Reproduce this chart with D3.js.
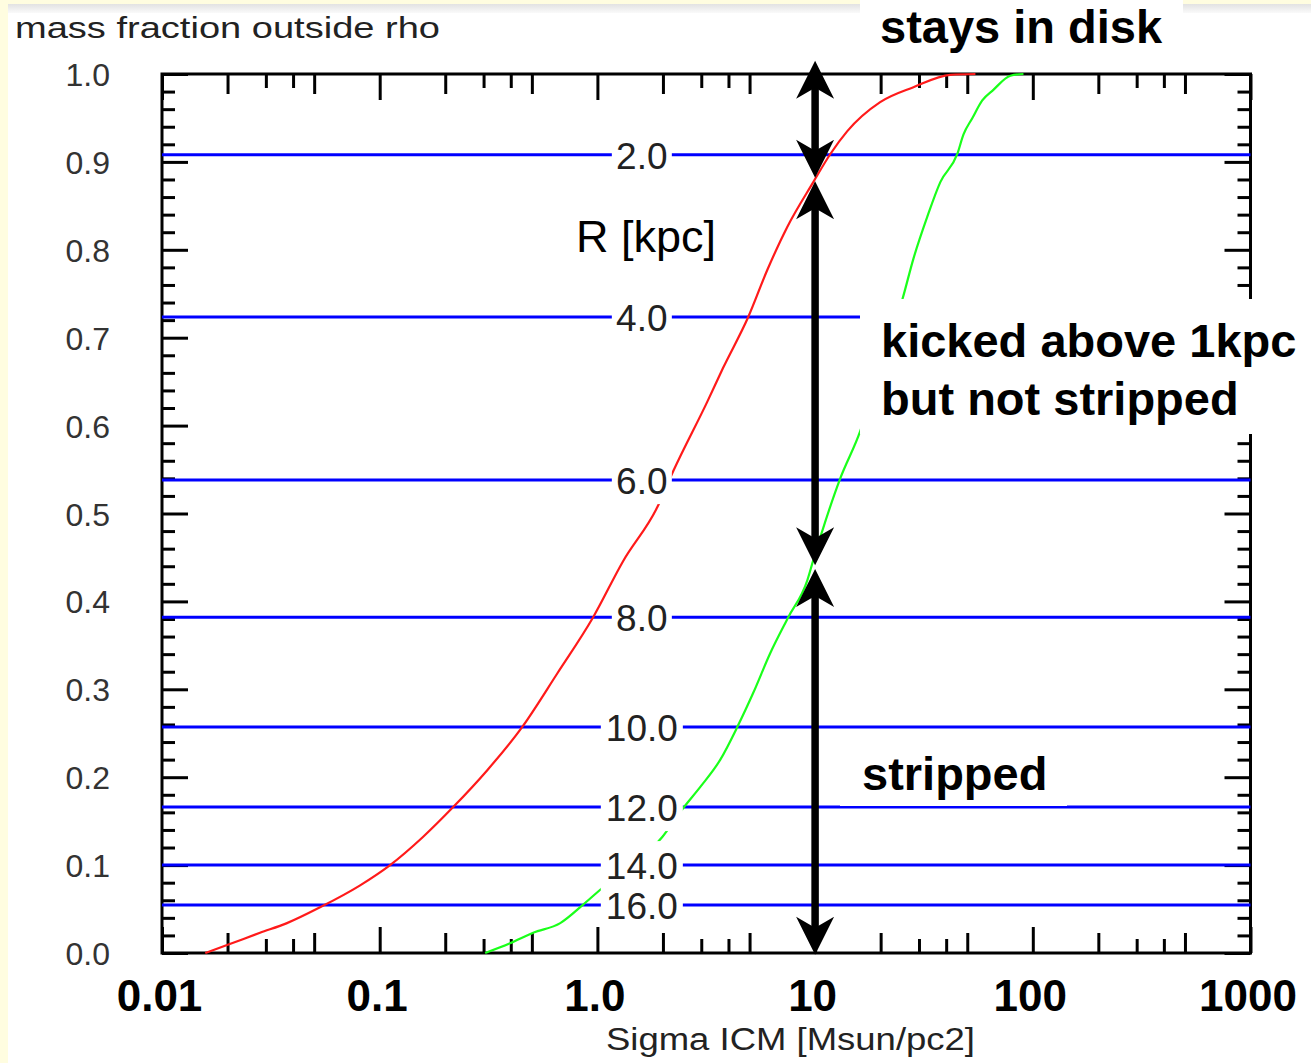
<!DOCTYPE html>
<html>
<head>
<meta charset="utf-8">
<script src="https://cdn.jsdelivr.net/npm/d3@7"></script>
<style>
  body { margin: 0; background: #fff; }
  svg { display: block; }
  text { font-family: "Liberation Sans", Arial, sans-serif; }
</style>
</head>
<body>
<div id="chart"></div>
<script>
// data
var redSigma = [0.0158, 0.0199, 0.0282, 0.0375, 0.0532, 0.0813, 0.1116, 0.158, 0.2175, 0.312, 0.451, 0.654, 0.956, 1.314, 1.883, 2.229, 3.195, 3.785, 4.93, 6.03, 7.45, 9.81, 11.75, 14.06, 19.9, 28.3, 41.8, 54.5];
var redFrac  = [0.0, 0.009, 0.023, 0.034, 0.052, 0.077, 0.100, 0.132, 0.166, 0.208, 0.257, 0.318, 0.382, 0.446, 0.507, 0.548, 0.627, 0.666, 0.7235, 0.777, 0.826, 0.877, 0.909, 0.935, 0.968, 0.985, 0.999, 1.0];

var greenSigma = [0.305, 0.397, 0.507, 0.675, 0.86, 1.03, 1.986, 2.48, 2.97, 3.67, 4.39, 5.2, 6.22, 7.53, 9.21, 9.81, 13.05, 16.13, 19.9, 25.2, 28.3, 32.8, 37.6, 45.0, 48.0, 52.8, 58.6, 65.9, 78.9, 90.6];
var greenFrac  = [0.0, 0.011, 0.023, 0.034, 0.055, 0.072, 0.132, 0.165, 0.189, 0.220, 0.257, 0.296, 0.341, 0.382, 0.424, 0.447, 0.540, 0.594, 0.669, 0.744, 0.790, 0.838, 0.877, 0.909, 0.931, 0.950, 0.970, 0.982, 0.998, 1.0];

// radius contours (R [kpc]) and the mass fraction where each sits
var radiusLabels = ["2.0", "4.0", "6.0", "8.0", "10.0", "12.0", "14.0", "16.0"];
var radiusFrac   = [0.908, 0.7235, 0.538, 0.382, 0.257, 0.166, 0.100, 0.0546];
var radiusLabelSigma = 1.6;

var xTickLabels = ["0.01", "0.1", "1.0", "10", "100", "1000"];

// the double arrows at Sigma = 10
var arrowSigma = 10;
var arrowSpans = [[1.015, 0.882], [0.878, 0.441], [0.437, -0.002]];

var svgWidth = 1311;
var svgHeight = 1063;

var svg = d3.select("#chart").append("svg")
    .attr("width", svgWidth)
    .attr("height", svgHeight);

// page background: yellow edge strips and grey band
svg.append("rect").attr("x", 0).attr("y", 0).attr("width", svgWidth).attr("height", 4).attr("fill", "#fffde0");
var grad = svg.append("defs").append("linearGradient").attr("id", "band").attr("x1", 0).attr("y1", 0).attr("x2", 0).attr("y2", 1);
grad.append("stop").attr("offset", "0%").attr("stop-color", "#e2e2e2");
grad.append("stop").attr("offset", "100%").attr("stop-color", "#fafafa");
svg.append("rect").attr("x", 0).attr("y", 4).attr("width", svgWidth).attr("height", 9).attr("fill", "url(#band)");
svg.append("rect").attr("x", 0).attr("y", 0).attr("width", 8).attr("height", svgHeight).attr("fill", "#fffde0");

var x = d3.scaleLog().domain([0.01, 1000]).range([162, 1250.5]);
var y = d3.scaleLinear().domain([0, 1]).range([953, 74]);

var decades = [0.01, 0.1, 1, 10, 100, 1000];
var mid25 = [], mid34 = [];
decades.slice(0, 5).forEach(function(d) {
    mid25.push(d * 2, d * 5);
    mid34.push(d * 3, d * 4);
});
var yMajor = d3.range(0, 11).map(function(i) { return i / 10; });
var yMinor = d3.range(0, 51).filter(function(i) { return i % 5 !== 0; }).map(function(i) { return i / 50; });

function tickAxis(axisFn, scale, values, size, transform) {
    var g = svg.append("g")
        .attr("transform", transform)
        .attr("color", "#000")
        .call(axisFn(scale).tickValues(values).tickSize(-size).tickFormat(""));
    g.select(".domain").remove();
    g.selectAll("line").attr("stroke-width", 3);
    return g;
}

// x ticks bottom and top
[[decades, 26], [mid25, 20], [mid34, 14]].forEach(function(t) {
    tickAxis(d3.axisBottom, x, t[0], t[1], "translate(0," + y(0) + ")");
    tickAxis(d3.axisTop, x, t[0], t[1], "translate(0," + y(1) + ")");
});
// y ticks left and right
[[yMajor, 26], [yMinor, 13]].forEach(function(t) {
    tickAxis(d3.axisLeft, y, t[0], t[1], "translate(" + x(0.01) + ",0)");
    tickAxis(d3.axisRight, y, t[0], t[1], "translate(" + x(1000) + ",0)");
});

// tick labels
var xLab = svg.append("g")
    .attr("transform", "translate(0," + y(0) + ")")
    .call(d3.axisBottom(x).tickValues(decades).tickSize(0).tickPadding(27)
        .tickFormat(function(d, i) { return xTickLabels[i]; }));
xLab.select(".domain").remove();
xLab.selectAll("text")
    .attr("font-family", "'Liberation Sans', Arial, sans-serif")
    .attr("font-size", 44)
    .attr("font-weight", "bold")
    .attr("fill", "#000")
    .attr("dx", -3);

var yLab = svg.append("g")
    .attr("transform", "translate(" + x(0.01) + ",0)")
    .call(d3.axisLeft(y).tickValues(yMajor).tickSize(0).tickPadding(52).tickFormat(d3.format(".1f")));
yLab.select(".domain").remove();
yLab.selectAll("text")
    .attr("font-family", "'Liberation Sans', Arial, sans-serif")
    .attr("font-size", 32)
    .attr("fill", "#333")
    .attr("dy", "0.36em");

// frame
svg.append("rect")
    .attr("x", x(0.01)).attr("y", y(1))
    .attr("width", x(1000) - x(0.01)).attr("height", y(0) - y(1))
    .attr("fill", "none").attr("stroke", "#000").attr("stroke-width", 3);

// radius lines
svg.selectAll(".rline")
    .data(radiusFrac)
    .enter().append("line")
    .attr("class", "rline")
    .attr("x1", x(0.01)).attr("x2", x(1000))
    .attr("y1", function(d) { return y(d); })
    .attr("y2", function(d) { return y(d); })
    .attr("stroke", "#0000ff")
    .attr("stroke-width", 3);

// curves
var line = d3.line()
    .curve(d3.curveMonotoneX)
    .x(function(d) { return x(d[0]); })
    .y(function(d) { return y(d[1]); });

svg.append("path")
    .datum(d3.zip(redSigma, redFrac))
    .attr("d", line)
    .attr("fill", "none")
    .attr("stroke", "#ff1a1a")
    .attr("stroke-width", 2.2);

svg.append("path")
    .datum(d3.zip(greenSigma, greenFrac))
    .attr("d", line)
    .attr("fill", "none")
    .attr("stroke", "#1aff1a")
    .attr("stroke-width", 2.2);

// radius labels with white backing
var rl = svg.selectAll(".rlab")
    .data(d3.zip(radiusLabels, radiusFrac))
    .enter().append("g")
    .attr("class", "rlab")
    .attr("transform", function(d) { return "translate(" + x(radiusLabelSigma) + "," + y(d[1]) + ")"; });
rl.append("rect")
    .attr("x", function(d) { return d[0].length > 3 ? -41 : -30; })
    .attr("width", function(d) { return d[0].length > 3 ? 82 : 60; })
    .attr("y", -24).attr("height", 48)
    .attr("fill", "#fff");
rl.append("text")
    .attr("text-anchor", "middle")
    .attr("y", 14)
    .attr("font-size", 37)
    .attr("fill", "#222")
    .text(function(d) { return d[0]; });

svg.append("text")
    .attr("x", 576).attr("y", 252)
    .attr("font-size", 45)
    .attr("fill", "#000")
    .text("R [kpc]");

// axis titles
svg.append("text")
    .attr("x", 15).attr("y", 38)
    .attr("font-size", 29)
    .attr("fill", "#222")
    .attr("textLength", 425)
    .attr("lengthAdjust", "spacingAndGlyphs")
    .text("mass fraction outside rho");

svg.append("text")
    .attr("x", 606).attr("y", 1050)
    .attr("font-size", 31)
    .attr("fill", "#222")
    .attr("textLength", 369)
    .attr("lengthAdjust", "spacingAndGlyphs")
    .text("Sigma ICM [Msun/pc2]");

// annotation boxes
var notes = [
    {box: [860, 0, 323, 60], lines: ["stays in disk"], x: 880, y: 43},
    {box: [860, 299, 451, 135], lines: ["kicked above 1kpc", "but not stripped"], x: 881, y: 357},
    {box: [840, 745, 227, 61], lines: ["stripped"], x: 862, y: 790}
];
notes.forEach(function(n) {
    svg.append("rect")
        .attr("x", n.box[0]).attr("y", n.box[1])
        .attr("width", n.box[2]).attr("height", n.box[3])
        .attr("fill", "#fff");
    n.lines.forEach(function(t, i) {
        svg.append("text")
            .attr("x", n.x).attr("y", n.y + i * 58)
            .attr("font-size", 47)
            .attr("font-weight", "bold")
            .attr("fill", "#000")
            .text(t);
    });
});

// double arrows
var ax = x(arrowSigma);
function head(tipY, dir) {
    // dir = -1 points up, 1 points down
    var L = 38, W = 19, N = 27;
    return "M" + ax + "," + tipY +
        "L" + (ax + W) + "," + (tipY - dir * L) +
        "L" + ax + "," + (tipY - dir * N) +
        "L" + (ax - W) + "," + (tipY - dir * L) + "Z";
}
arrowSpans.forEach(function(s) {
    var top = y(s[0]), bot = y(s[1]);
    svg.append("line")
        .attr("x1", ax).attr("x2", ax)
        .attr("y1", top + 20).attr("y2", bot - 20)
        .attr("stroke", "#000").attr("stroke-width", 7.5);
    svg.append("path").attr("d", head(top, -1)).attr("fill", "#000");
    svg.append("path").attr("d", head(bot, 1)).attr("fill", "#000");
});
</script>
</body>
</html>
